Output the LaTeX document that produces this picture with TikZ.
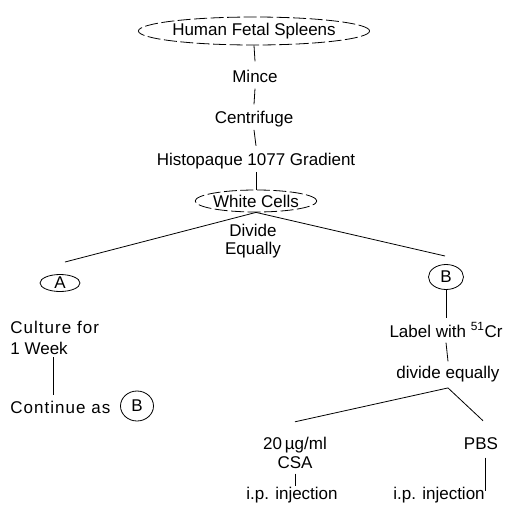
\documentclass[tikz,border=0pt]{standalone}
\usepackage{fontspec}
\setmainfont{Liberation Sans}
\usetikzlibrary{shapes.geometric}
\begin{document}
\begin{tikzpicture}[x=1pt,y=-1pt,
  font=\fontsize{17}{20}\selectfont,
  line width=0.8pt,
  lbl/.style={inner sep=0pt, anchor=base},
  dashell/.style={ellipse, draw, dash pattern=on 13pt off 3.5pt, inner sep=0pt},
  solell/.style={ellipse, draw, inner sep=0pt}]
\useasboundingbox (0,0) rectangle (509,507);

\node[dashell, minimum width=205pt, minimum height=28pt] (hfs) at (254,31) {Human Fetal Spleens};
\node[lbl] (mince) at (255,82) {Mince};
\node[lbl] (cent) at (254,123) {Centrifuge};
\node[lbl] (hist) at (256,165) {Histopaque 1077 Gradient};
\node[dashell, minimum width=117pt, minimum height=22pt] (wc) at (256,201) {White Cells};
\node[lbl] (div) at (253,236) {Divide};
\node[lbl] (eq) at (253,254) {Equally};

\node[solell, minimum width=40pt, minimum height=17pt] (A) at (60,283) {A};
\node[solell, minimum width=35pt, minimum height=25pt] (B) at (446,277) {B};

\coordinate (aend) at (65,262);
\coordinate (bend) at (445,256);
\draw (wc.south) -- (aend);
\draw (wc.south) -- (bend);

\node[lbl, anchor=base west] (cult) at (10,333) {\addfontfeature{LetterSpace=6}Culture for};
\node[lbl, anchor=base west] (week) at (10,354) {1 Week};
\node[lbl, anchor=base west] (cont) at (10,413) {\addfontfeature{LetterSpace=6}Continue as};
\node[solell, minimum width=33pt, minimum height=30pt] (B2) at (137,406) {B};

\node[lbl] (lab) at (446,337) {Label with \textsuperscript{51}Cr};
\node[lbl] (de) at (448,378) {divide equally};
\node[lbl] (ug) at (295,449) {20\,µg/ml};
\node[lbl] (csa) at (295,468) {CSA};
\node[lbl] (pbs) at (481,449) {PBS};
\node[lbl] (ip1) at (292,499) {i.p. injection};
\node[lbl] (ip2) at (439,499) {i.p. injection};

\draw (hfs.south) -- ([yshift=8pt]mince.north);
\draw ([yshift=-6pt]mince.south) -- ([yshift=6pt]cent.north);
\draw ([yshift=-3pt]cent.south) -- ([yshift=6.5pt]hist.north);
\draw ([yshift=-3pt]hist.south) -- (wc.north);

\draw ([xshift=43pt,yshift=-3pt]week.base west) -- ([xshift=43pt,yshift=5pt]cont.north west);

\draw (B.south) -- ([yshift=4pt]lab.north);
\draw ([yshift=-5pt]lab.south) -- ([yshift=4pt]de.north);
\draw ([yshift=-6pt]de.south) -- ([yshift=14.5pt]ug.north);
\draw ([yshift=-6pt]de.south) -- ([xshift=2pt,yshift=16pt]pbs.north);
\draw ([yshift=-5pt]csa.south) -- (csa.south |- ip1.north);
\draw ([xshift=4pt,yshift=-8pt]pbs.south) -- ([xshift=4pt,yshift=-5pt]pbs.south |- ip2.north);
\end{tikzpicture}
\end{document}
